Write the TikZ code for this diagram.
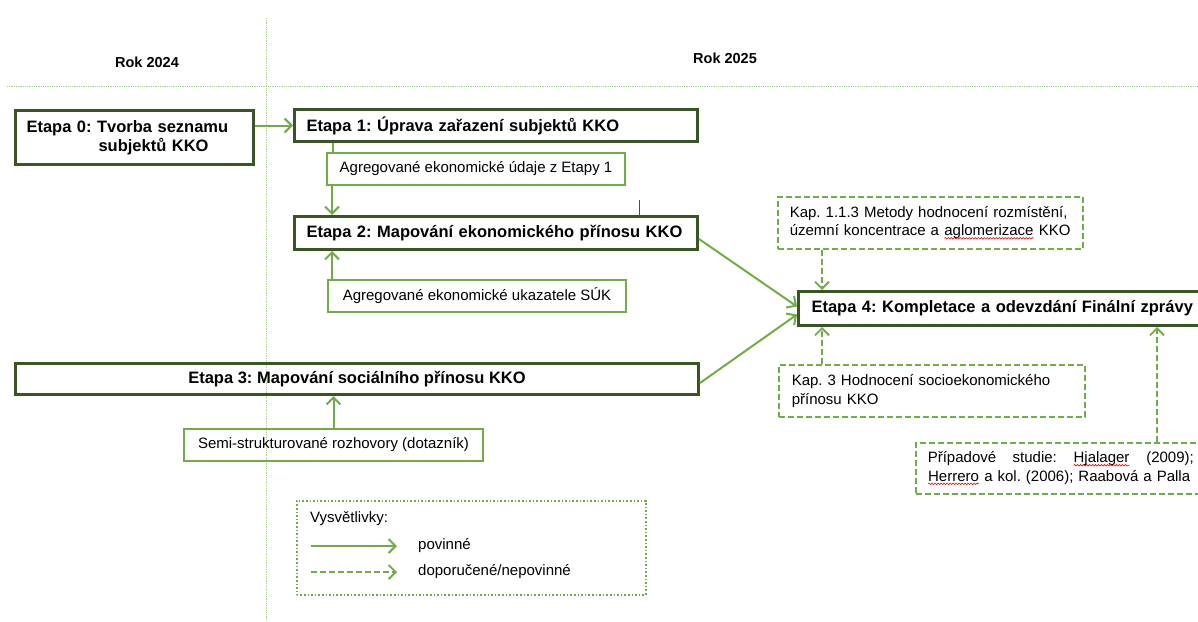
\documentclass[tikz,border=0pt]{standalone}
\usepackage{fontspec}
\setmainfont{Liberation Sans}
\frenchspacing
\usetikzlibrary{arrows.meta}
\usetikzlibrary{decorations.pathmorphing}
\definecolor{dark}{HTML}{375623}
\definecolor{accent}{HTML}{70AD47}
\definecolor{grid}{HTML}{A9D18E}
\newcommand{\spellwave}[1]{\tikz[baseline=(sw.base)]{\node[draw=none, fill=none, inner sep=0pt, outer sep=0pt, minimum width=0pt, minimum height=0pt, text width=, anchor=base] (sw) {#1};
  \draw[red, solid, line width=0.6pt, decorate, decoration={snake, amplitude=0.8pt, segment length=3pt}] ([yshift=-2.5pt]sw.base west) -- ([yshift=-2.5pt]sw.base east);}}

\begin{document}
\begin{tikzpicture}[
  x=1pt, y=-1pt,
  stage/.style = {draw=dark, line width=3pt, anchor=north west, inner xsep=12pt, inner ysep=0pt, align=left, font=\bfseries\fontsize{16.5}{19.5}\selectfont},
  source/.style = {draw=accent, line width=2pt, anchor=north west, inner sep=0pt, font=\fontsize{15}{18.5}\selectfont},
  hint/.style = {source, line width=1.6pt, dash pattern=on 6pt off 3pt, inner xsep=12pt, align=left},
  legendbox/.style = {draw=accent, line width=1.6pt, dotted, anchor=north west, inner sep=0pt},
  note/.style = {anchor=west, inner sep=0pt, font=\fontsize{15}{18}\selectfont},
  year/.style = {font=\bfseries\fontsize{14.5}{17}\selectfont},
  line/.style = {accent, line width=2pt},
  optional/.style = {line, line width=1.8pt, dash pattern=on 6pt off 3pt},
  divider/.style = {grid, line width=0.8pt, densely dotted},
  >={Straight Barb[length=7pt,width=14pt]},
]

  \useasboundingbox (0,0) rectangle (1198,621);
  \clip (0,0) rectangle (1198,621);

  \draw[divider] (266,18) -- (266,621);
  \draw[divider] (7,86) -- (1198,86);

  \node[year] (y0) at (147,62) {Rok 2024};
  \node[year] (y1) at (725,58) {Rok 2025};

  \node[stage, text width=216, minimum height=54, inner xsep=11pt] (e0) at (14,109) {Etapa 0: Tvorba seznamu\\\hspace*{72pt}subjektů KKO};
  \node[stage, text width=379, minimum height=32] (e1) at (293,108) {Etapa 1: Úprava zařazení subjektů KKO};
  \node[source, minimum width=298, minimum height=32] (a1) at (326,152) {Agregované ekonomické údaje z Etapy 1};
  \node[stage, text width=379, minimum height=33] (e2) at (293,215) {Etapa 2: Mapování ekonomického přínosu KKO};
  \node[source, minimum width=298, minimum height=32] (a2) at (327,279) {Agregované ekonomické ukazatele SÚK};
  \node[stage, minimum width=683, minimum height=31, align=center] (e3) at (14,362) {Etapa 3: Mapování sociálního přínosu KKO};
  \node[source, minimum width=299, minimum height=32] (s3) at (183,428) {Semi-strukturované rozhovory (dotazník)};
  \node[stage, text width=400, minimum height=34, inner xsep=13pt] (e4) at (797,290) {Etapa 4: Kompletace a odevzdání Finální zprávy};

  \node[hint, text width=281, minimum height=52] (k1) at (777,196) {Kap. 1.1.3 Metody hodnocení rozmístění,\\územní koncentrace a \spellwave{aglomerizace} KKO};
  \node[hint, text width=280, minimum height=52, inner xsep=13pt] (k3) at (778,364) {Kap. 3 Hodnocení socioekonomického\\přínosu KKO};
  \node[hint, text width=266, minimum height=51] (cs) at (915,442) {Případové\hfill studie:\hfill \spellwave{Hjalager}\hfill (2009);\\\spellwave{Herrero} a kol. (2006); Raabová a Palla};

  % legend
  \node[legendbox, minimum width=349, minimum height=94] (lg) at (296,500) {};
  \node[note] (lgt) at (310,519) {Vysvětlivky:};
  \coordinate (m0) at (311,546);
  \coordinate (m1) at (397,546);
  \coordinate (o0) at (311,572);
  \coordinate (o1) at (397,572);
  \node[note] (lm) at (418,546) {povinné};
  \node[note] (lo) at (418,572) {doporučené/nepovinné};
  \draw[line, ->] (m0) -- (m1);
  \draw[optional, ->] (o0) -- (o1);

  \draw[line, ->] (e1.west -| e0.east) -- (e1.west);

  \coordinate (t1) at ([xshift=7pt]a1.north west);
  \coordinate (t2) at ([xshift=6pt]a1.south west);
  \coordinate (t3) at ([xshift=5pt]a2.north west);
  \draw[line] (t1 |- e1.south) -- (t1);
  \draw[line, ->] (t2) -- (t2 |- e2.north);
  \draw[line, ->] (t3) -- (t3 |- e2.south);
  \draw[line, ->] (s3.north) -- (s3.north |- e3.south);

  \draw[line, ->] ([yshift=-6pt]e2.east) -- ([yshift=2pt]e4.west);
  \draw[line, ->] ([yshift=-4pt]e3.east) -- ([yshift=-6pt]e4.west);

  \coordinate (t5) at ([xshift=45pt]k1.south west);
  \coordinate (t6) at ([xshift=44pt]k3.north west);
  \coordinate (t7) at ([xshift=242pt]cs.north west);
  \draw[optional, ->] (t5) -- (t5 |- e4.north);
  \draw[optional, ->] (t6) -- (t6 |- e4.south);
  \draw[optional, ->] (t7) -- (t7 |- e4.south);

  %\draw[help lines] (0,0) grid[step=50] (1198,621);
  \draw[line width=0.8pt, black!70] (639,200) -- (639,216);

\end{tikzpicture}
\end{document}
